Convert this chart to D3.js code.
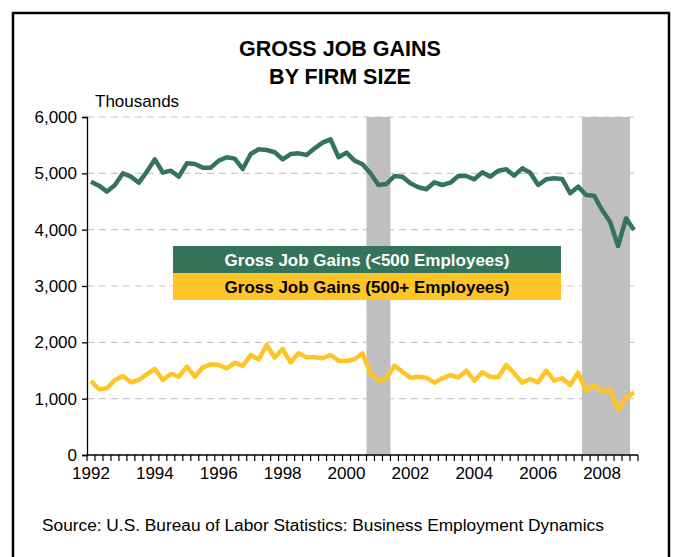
<!DOCTYPE html>
<html>
<head>
<meta charset="utf-8">
<script src="https://cdn.jsdelivr.net/npm/d3@7"></script>
<style>
  html, body { margin: 0; padding: 0; background: #fff; }
  svg { display: block; font-family: "Liberation Sans", Arial, sans-serif; }
</style>
</head>
<body>
<svg id="chart" width="678" height="557"></svg>
<script>
// Quarterly observations, 1992Q3 through 2009Q3
const quarters = [
  "1992Q3","1992Q4",
  "1993Q1","1993Q2","1993Q3","1993Q4",
  "1994Q1","1994Q2","1994Q3","1994Q4",
  "1995Q1","1995Q2","1995Q3","1995Q4",
  "1996Q1","1996Q2","1996Q3","1996Q4",
  "1997Q1","1997Q2","1997Q3","1997Q4",
  "1998Q1","1998Q2","1998Q3","1998Q4",
  "1999Q1","1999Q2","1999Q3","1999Q4",
  "2000Q1","2000Q2","2000Q3","2000Q4",
  "2001Q1","2001Q2","2001Q3","2001Q4",
  "2002Q1","2002Q2","2002Q3","2002Q4",
  "2003Q1","2003Q2","2003Q3","2003Q4",
  "2004Q1","2004Q2","2004Q3","2004Q4",
  "2005Q1","2005Q2","2005Q3","2005Q4",
  "2006Q1","2006Q2","2006Q3","2006Q4",
  "2007Q1","2007Q2","2007Q3","2007Q4",
  "2008Q1","2008Q2","2008Q3","2008Q4",
  "2009Q1","2009Q2","2009Q3"
];

// Gross job gains, thousands
const smallFirms = [
  4852, 4781, 4675, 4793, 5000, 4941, 4834, 5030, 5249, 5012,
  5047, 4941, 5178, 5166, 5101, 5101, 5225, 5285, 5261, 5077,
  5343, 5427, 5414, 5375, 5249, 5343, 5355, 5326, 5444, 5544,
  5604, 5285, 5367, 5225, 5160, 5000, 4793, 4811, 4953, 4941,
  4823, 4752, 4717, 4841, 4793, 4834, 4953, 4953, 4894, 5018,
  4941, 5047, 5071, 4959, 5089, 5012, 4793, 4894, 4912, 4900,
  4646, 4763, 4616, 4604, 4349, 4142, 3710, 4201, 3994
];
const largeFirms = [
  1314, 1166, 1184, 1331, 1402, 1290, 1331, 1432, 1527, 1331,
  1438, 1390, 1568, 1390, 1557, 1610, 1598, 1539, 1639, 1580,
  1775, 1699, 1953, 1730, 1882, 1645, 1805, 1734, 1734, 1717,
  1775, 1675, 1669, 1699, 1805, 1450, 1314, 1361, 1586, 1479,
  1373, 1390, 1373, 1284, 1361, 1420, 1376, 1497, 1320, 1468,
  1390, 1379, 1598, 1450, 1284, 1349, 1290, 1497, 1320, 1361,
  1243, 1461, 1142, 1243, 1124, 1172, 799, 1007, 1113
];

const seriesNames = ["Gross Job Gains (<500 Employees)", "Gross Job Gains (500+ Employees)"];
const seriesColors = ["#34745A", "#FFC425"];

// Recession periods (first and last quarter shaded)
const recessions = [
  { start: "2001Q2", end: "2001Q4" },
  { start: "2008Q1", end: "2009Q2" }
];

const yTicks = [0, 1000, 2000, 3000, 4000, 5000, 6000];
const xLabelQuarters = ["1992Q3","1994Q3","1996Q3","1998Q3","2000Q3","2002Q3","2004Q3","2006Q3","2008Q3"];

const svg = d3.select("#chart");
const plot = { left: 87, right: 638, top: 117, bottom: 455 };

// Outer frame
svg.append("rect")
  .attr("x", 13).attr("y", 13)
  .attr("width", 656).attr("height", 580)
  .attr("fill", "none").attr("stroke", "#000").attr("stroke-width", 2.5);

// Title
const title = svg.append("text")
  .attr("text-anchor", "middle")
  .attr("font-weight", "bold")
  .attr("font-size", 21.5)
  .attr("fill", "#000");
title.append("tspan").attr("x", 340).attr("y", 56).text("GROSS JOB GAINS");
title.append("tspan").attr("x", 340).attr("y", 84).text("BY FIRM SIZE");

const x = d3.scaleBand().domain(quarters).range([plot.left, plot.right]).paddingInner(0).paddingOuter(0);
const y = d3.scaleLinear().domain([0, 6000]).range([plot.bottom, plot.top]);

// Gridlines
svg.append("g")
  .selectAll("line")
  .data(yTicks.filter(d => d > 0))
  .join("line")
  .attr("x1", plot.left).attr("x2", plot.right)
  .attr("y1", d => y(d)).attr("y2", d => y(d))
  .attr("stroke", "#C8C8C8").attr("stroke-width", 1.2)
  .attr("stroke-dasharray", "7,5");

// Recession shading
svg.append("g")
  .selectAll("rect")
  .data(recessions)
  .join("rect")
  .attr("x", d => x(d.start))
  .attr("width", d => x(d.end) + x.bandwidth() - x(d.start))
  .attr("y", y(6000))
  .attr("height", y(0) - y(6000))
  .attr("fill", "#BFBFBF");

// Y axis
const yAxis = d3.axisLeft(y)
  .tickValues(yTicks)
  .tickFormat(d3.format(","))
  .tickSize(5)
  .tickPadding(5);
const gy = svg.append("g").attr("transform", `translate(${plot.left},0)`).call(yAxis);
gy.select(".domain").attr("stroke", "#000").attr("stroke-width", 1.3);
gy.selectAll(".tick line").attr("stroke", "#000").attr("stroke-width", 1.3);
gy.selectAll(".tick text")
  .attr("font-size", 17).attr("font-family", "Liberation Sans, Arial, sans-serif").attr("fill", "#000");

// X axis: tick marks at every quarter boundary, year labels every two years
const gx = svg.append("g").attr("transform", `translate(0,${plot.bottom})`);
gx.append("line")
  .attr("x1", plot.left).attr("x2", plot.right)
  .attr("stroke", "#000").attr("stroke-width", 1.3);
gx.selectAll("line.qtick")
  .data(quarters.concat(["end"]))
  .join("line")
  .attr("class", "qtick")
  .attr("x1", d => d === "end" ? plot.right : x(d))
  .attr("x2", d => d === "end" ? plot.right : x(d))
  .attr("y1", 0).attr("y2", 6)
  .attr("stroke", "#000").attr("stroke-width", 1.2);
gx.selectAll("text")
  .data(xLabelQuarters)
  .join("text")
  .attr("x", d => x(d) + x.bandwidth() / 2)
  .attr("y", 24)
  .attr("text-anchor", "middle")
  .attr("font-size", 17)
  .attr("fill", "#000")
  .text(d => d.slice(0, 4));

// Y axis caption
svg.append("text")
  .attr("x", 95).attr("y", 107)
  .attr("font-size", 17).attr("fill", "#000")
  .text("Thousands");

// Series lines
const line = d3.line()
  .x((d, i) => x(quarters[i]) + x.bandwidth() / 2)
  .y(d => y(d));
[smallFirms, largeFirms].forEach((vals, k) => {
  svg.append("path")
    .datum(vals)
    .attr("d", line)
    .attr("fill", "none")
    .attr("stroke", seriesColors[k])
    .attr("stroke-width", 4.5)
    .attr("stroke-linejoin", "round")
    .attr("stroke-linecap", "butt");
});

// Legend
const legend = { x: 173, y: 246, w: 388, h: 27 };
const textColors = ["#FFFFFF", "#000000"];
seriesNames.forEach((name, k) => {
  svg.append("rect")
    .attr("x", legend.x).attr("y", legend.y + k * legend.h)
    .attr("width", legend.w).attr("height", legend.h)
    .attr("fill", seriesColors[k]);
  svg.append("text")
    .attr("x", legend.x + legend.w / 2)
    .attr("y", legend.y + k * legend.h + legend.h / 2 + 6)
    .attr("text-anchor", "middle")
    .attr("font-weight", "bold")
    .attr("font-size", 17)
    .attr("fill", textColors[k])
    .text(name);
});

// Source note
svg.append("text")
  .attr("x", 42).attr("y", 531)
  .attr("font-size", 17.3).attr("fill", "#000")
  .text("Source: U.S. Bureau of Labor Statistics: Business Employment Dynamics");
</script>
</body>
</html>
